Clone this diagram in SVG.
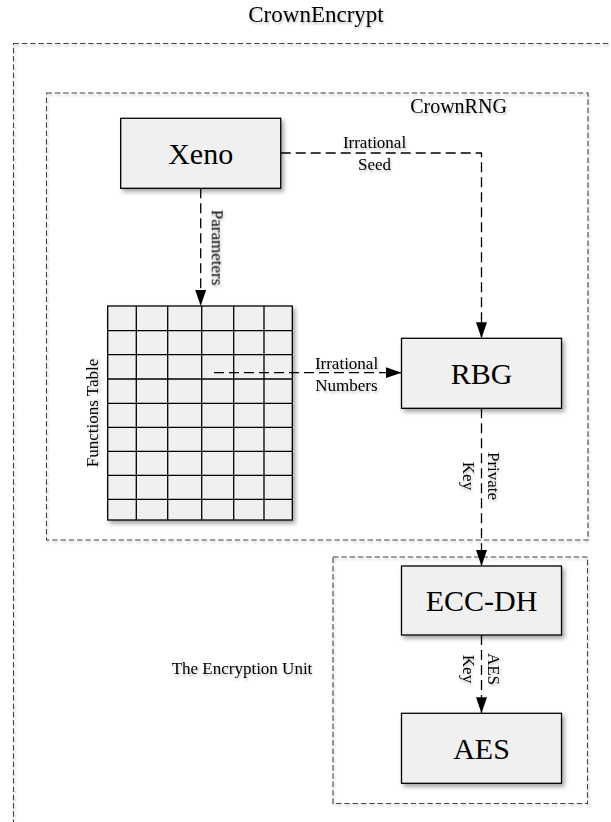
<svg xmlns="http://www.w3.org/2000/svg" width="611" height="822" viewBox="0 0 611 822">
<defs>
<style>
text{font-family:"Liberation Serif","Times New Roman",serif;fill:#000}
.lbl{font-size:17px}
.big{font-size:30px;text-anchor:middle}
.ttl{font-size:23px;text-anchor:middle}
.cnt{fill:none;stroke:#444;stroke-width:1.1;stroke-dasharray:5.5,2.8}
.box{fill:#f0f0f0;stroke:#000;stroke-width:1.3}
.cell{fill:none;stroke:#000;stroke-width:1.3}
.con{fill:none;stroke:#000;stroke-width:1.3;stroke-dasharray:10,5}
.arr{marker-end:url(#ah)}
</style>
<filter id="sh" x="-10%" y="-10%" width="130%" height="130%">
<feDropShadow dx="2.5" dy="3" stdDeviation="2" flood-color="#000" flood-opacity="0.35"/>
</filter>
<filter id="tsh" x="-10%" y="-20%" width="130%" height="160%">
<feDropShadow dx="1" dy="2" stdDeviation="1.2" flood-color="#000" flood-opacity="0.25"/>
</filter>
<marker id="ah" markerUnits="userSpaceOnUse" markerWidth="16" markerHeight="11" refX="16" refY="5.5" orient="auto">
<path d="M0,0 L16,5.5 L0,11 z" fill="#000"/>
</marker>
</defs>

<g id="crownencrypt">
<rect class="cnt" x="13.5" y="43.5" width="620" height="800" filter="url(#tsh)"/>
<text class="ttl" x="316" y="22" filter="url(#tsh)">CrownEncrypt</text>
</g>

<g id="crownrng">
<rect class="cnt" x="46.5" y="93" width="541.5" height="447" filter="url(#tsh)"/>
<text class="lbl" x="458.5" y="112.7" text-anchor="middle" style="font-size:20px" filter="url(#tsh)">CrownRNG</text>
</g>

<g id="encryption-unit">
<rect class="cnt" x="333" y="557" width="254.5" height="246.5" filter="url(#tsh)"/>
<text class="lbl" x="242" y="674" text-anchor="middle" filter="url(#tsh)">The Encryption Unit</text>
</g>

<g id="xeno">
<rect class="box" x="120.7" y="118.3" width="160" height="70" filter="url(#sh)"/>
<text class="big" x="200.7" y="163.5">Xeno</text>
</g>

<g id="functions-table">
<rect class="box" x="107.7" y="306" width="184.6" height="214" filter="url(#sh)"/>
<path class="cell" d="M136.3,306V520M167.7,306V520M201.7,306V520M233.7,306V520M264,306V520M107.7,330.7H292.3M107.7,354.7H292.3M107.7,379H292.3M107.7,403.3H292.3M107.7,427.3H292.3M107.7,451.3H292.3M107.7,475.3H292.3M107.7,499.3H292.3"/>
<text class="lbl" transform="translate(98,413) rotate(-90)" text-anchor="middle" filter="url(#tsh)">Functions Table</text>
</g>

<g id="rbg">
<rect class="box" x="401.5" y="338.3" width="160" height="70" filter="url(#sh)"/>
<text class="big" x="481.5" y="383.5">RBG</text>
</g>

<g id="ecc-dh">
<rect class="box" x="401.5" y="566" width="160" height="69" filter="url(#sh)"/>
<text class="big" x="481.5" y="610.7">ECC-DH</text>
</g>

<g id="aes">
<rect class="box" x="401.5" y="713.3" width="160" height="70" filter="url(#sh)"/>
<text class="big" x="481.5" y="758.5">AES</text>
</g>

<g id="connectors">
<path class="con arr" d="M280.7,153 H481.5 V338.3"/>
<path class="con arr" d="M200.7,188.3 V306"/>
<path class="con arr" d="M214,372.7 H401.5"/>
<path class="con arr" d="M481.5,408.3 V566"/>
<path class="con arr" d="M481.5,635 V713.3"/>
<g filter="url(#tsh)">
<text class="lbl" x="374.5" y="148.3" text-anchor="middle">Irrational</text>
<text class="lbl" x="374.5" y="170" text-anchor="middle">Seed</text>
<text class="lbl" transform="translate(200.7,247.5) rotate(90)" x="0" y="-11.5" text-anchor="middle">Parameters</text>
<text class="lbl" x="346.5" y="369.3" text-anchor="middle">Irrational</text>
<text class="lbl" x="346.5" y="390.7" text-anchor="middle">Numbers</text>
<text class="lbl" transform="translate(481.5,476) rotate(90)" text-anchor="middle"><tspan x="0" y="-6">Private</tspan><tspan x="0" y="19">Key</tspan></text>
<text class="lbl" transform="translate(481.5,669) rotate(90)" text-anchor="middle"><tspan x="0" y="-6">AES</tspan><tspan x="0" y="19">Key</tspan></text>
</g>
</g>
</svg>
